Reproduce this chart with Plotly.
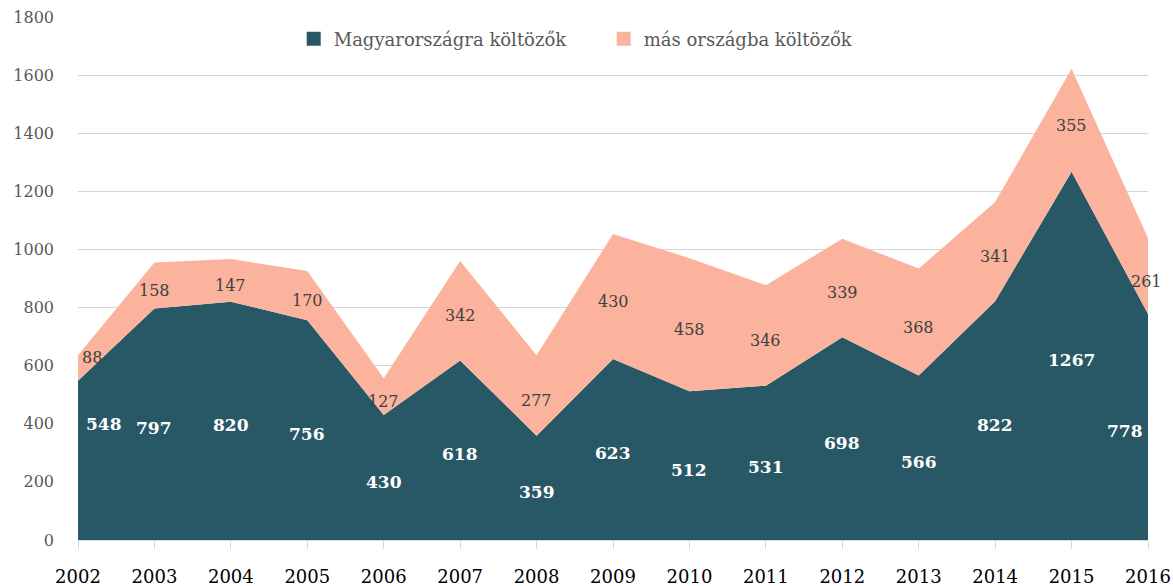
import plotly.graph_objects as go

years = [2002, 2003, 2004, 2005, 2006, 2007, 2008, 2009, 2010, 2011, 2012, 2013, 2014, 2015, 2016]
hungary = [548, 797, 820, 756, 430, 618, 359, 623, 512, 531, 698, 566, 822, 1267, 778]
other = [88, 158, 147, 170, 127, 342, 277, 430, 458, 346, 339, 368, 341, 355, 261]

name_hu = "Magyarországra költözők"
name_other = "más országba költözők"

DARK = "#285766"
SALMON = "#FBB39E"
FONT = "Georgia, 'DejaVu Serif', serif"

fig = go.Figure()
fig.add_trace(go.Scatter(x=years, y=hungary, name=name_hu, stackgroup="one",
                         mode="none", fillcolor=DARK, line=dict(width=0), showlegend=False))
fig.add_trace(go.Scatter(x=years, y=other, name=name_other, stackgroup="one",
                         mode="none", fillcolor=SALMON, line=dict(width=0), showlegend=False))
# legend entries with square swatches
fig.add_trace(go.Scatter(x=[None], y=[None], name=name_hu, mode="markers",
                         marker=dict(symbol="square", size=14, color=DARK)))
fig.add_trace(go.Scatter(x=[None], y=[None], name=name_other, mode="markers",
                         marker=dict(symbol="square", size=14, color=SALMON)))

first, last = years[0], years[-1]
for yr, h, o in zip(years, hungary, other):
    if yr == first:
        xa, xs, xs2, ys, ys2 = "left", 6, 2, 36, 10
    elif yr == last:
        xa, xs, xs2, ys, ys2 = "right", -3, 16, -4, -5
    else:
        xa, xs, xs2, ys, ys2 = "center", 0, 0, -4, -5
    fig.add_annotation(x=yr, y=h / 2, text=str(h), showarrow=False, xanchor=xa, xshift=xs,
                       yshift=ys,
                       font=dict(family=FONT, size=17, color="white", weight="bold"))
    fig.add_annotation(x=yr, y=h + o / 2, text=str(o), showarrow=False, xanchor=xa, xshift=xs2,
                       yshift=ys2,
                       font=dict(family=FONT, size=16, color="#404040"))

fig.update_layout(
    width=1173, height=586,
    margin=dict(l=78, r=25, t=17, b=46, autoexpand=False),
    plot_bgcolor="white", paper_bgcolor="white",
    font=dict(family=FONT, size=15, color="#595959"),
    showlegend=True,
    legend=dict(orientation="h", x=0.2016, y=0.958, xanchor="left", yanchor="middle",
                font=dict(family=FONT, size=18, color="#595959"),
                bgcolor="rgba(0,0,0,0)", entrywidth=265, entrywidthmode="pixels",
                traceorder="normal"),
    xaxis=dict(range=[2002, 2016], tickvals=years, ticktext=[str(y) for y in years],
               showgrid=False, zeroline=False, showline=True, linecolor="#d9d9d9", linewidth=1,
               ticks="outside", ticklen=8, tickcolor="#d9d9d9", automargin=False,
               ticklabelstandoff=12,
               tickfont=dict(family=FONT, size=18, color="#000000")),
    yaxis=dict(range=[0, 1800], dtick=200, showgrid=True, gridcolor="#d4d4d4", gridwidth=1,
               zeroline=False, showline=False, ticks="", ticklabelstandoff=23, automargin=False,
               tickfont=dict(family=FONT, size=16, color="#595959")),
)

fig.write_html("out.html", config={"displayModeBar": False},
               post_script="document.body.style.margin='0';document.body.style.overflow='hidden';")
